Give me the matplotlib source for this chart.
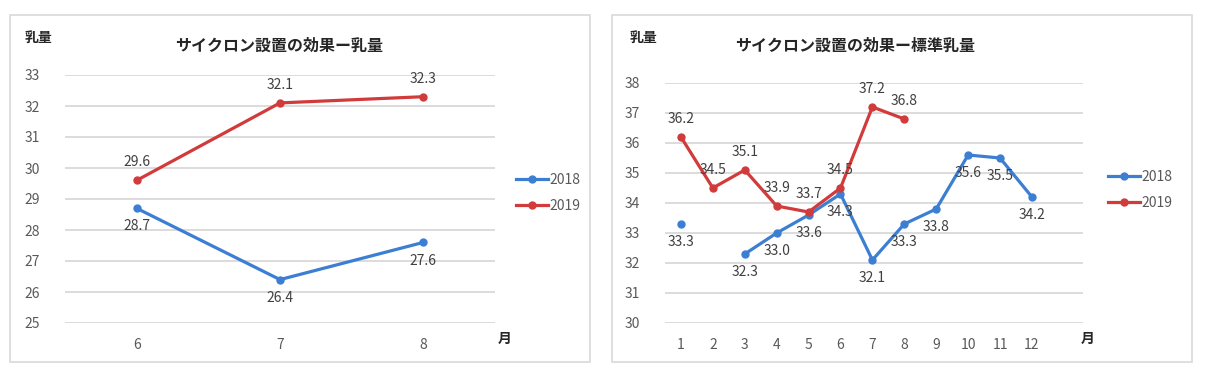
import numpy as np
import matplotlib
matplotlib.use("Agg")
import matplotlib.pyplot as plt
from matplotlib.patches import Rectangle

plt.rcParams['font.family'] = ['Noto Sans CJK JP', 'DejaVu Sans']

BLUE = '#3c7fd2'
RED = '#d13b3b'

# left chart: 乳量
months_l = [6, 7, 8]
milk_2018 = [28.7, 26.4, 27.6]
milk_2019 = [29.6, 32.1, 32.3]

# right chart: 標準乳量 (2018 has no value for month 2)
months_r = list(range(1, 13))
std_2018 = [33.3, np.nan, 32.3, 33.0, 33.6, 34.3, 32.1, 33.3, 33.8, 35.6, 35.5, 34.2]
months_r19 = list(range(1, 9))
std_2019 = [36.2, 34.5, 35.1, 33.9, 33.7, 34.5, 37.2, 36.8]

W, H = 1210, 381
fig = plt.figure(figsize=(W / 100, H / 100), dpi=100)

# panel borders
for x0 in (10, 612):
    fig.patches.append(Rectangle((x0 / W, 1 - 362 / H), 580 / W, 347 / H,
                                 transform=fig.transFigure, fill=False,
                                 edgecolor='#d9d9d9', linewidth=1.2))


def label_points(ax, xs, ys, above):
    for x, y in zip(xs, ys):
        if np.isnan(y):
            continue
        ax.annotate(f'{y:.1f}', (x, y), xytext=(0, 8 if above else -8),
                    textcoords='offset points', ha='center',
                    va='bottom' if above else 'top', fontsize=10, color='#404040')


def style(ax, ylim, xlim, xticks):
    ax.set_ylim(*ylim)
    ax.set_xlim(*xlim)
    ax.set_yticks(range(ylim[0], ylim[1] + 1))
    ax.set_xticks(xticks)
    ax.grid(axis='y', color='#d9d9d9', linewidth=1.3)
    ax.set_axisbelow(True)
    for s in ax.spines.values():
        s.set_visible(False)
    ax.tick_params(length=0, labelsize=10, labelcolor='#595959')
    ax.tick_params(axis='x', pad=11)
    ax.tick_params(axis='y', pad=18)


def titles(cx, title, ylab_x, month_x):
    fig.text(cx / W, 1 - 46 / H, title, ha='center', va='center',
             fontsize=11.5, fontweight='bold', color='#262626')
    fig.text(ylab_x / W, 1 - 38 / H, '乳量', ha='center', va='center', fontsize=10,
             fontweight='bold', color='#262626')
    fig.text(month_x / W, 1 - 339 / H, '月', ha='center', va='center', fontsize=10,
             fontweight='bold', color='#262626')


# ---- left
ax1 = fig.add_axes([65 / W, 1 - 323 / H, 430 / W, 248 / H])
ax1.plot(months_l, milk_2018, color=BLUE, lw=2.3, marker='o', ms=5, label='2018')
ax1.plot(months_l, milk_2019, color=RED, lw=2.3, marker='o', ms=5, label='2019')
label_points(ax1, months_l, milk_2018, False)
label_points(ax1, months_l, milk_2019, True)
style(ax1, (25, 33), (5.5, 8.5), months_l)
ax1.legend(loc='center left', bbox_to_anchor=(1.02, 0.525), frameon=False,
           fontsize=10, handlelength=2.3, handletextpad=0.1, labelspacing=0.9,
           labelcolor='#595959')
titles(279, 'サイクロン設置の効果ー乳量', 38, 505)

# ---- right
ax2 = fig.add_axes([665 / W, 1 - 323 / H, 418 / W, 240 / H])
ax2.plot(months_r, std_2018, color=BLUE, lw=2.3, marker='o', ms=5, label='2018')
ax2.plot(months_r19, std_2019, color=RED, lw=2.3, marker='o', ms=5, label='2019')
label_points(ax2, months_r, std_2018, False)
label_points(ax2, months_r19, std_2019, True)
style(ax2, (30, 38), (0.5, 13.6), months_r)
ax2.legend(loc='center left', bbox_to_anchor=(1.03, 0.555), frameon=False,
           fontsize=10, handlelength=2.3, handletextpad=0.1, labelspacing=0.9,
           labelcolor='#595959')
titles(855, 'サイクロン設置の効果ー標準乳量', 643, 1088)

fig.savefig('out.png', dpi=100)
